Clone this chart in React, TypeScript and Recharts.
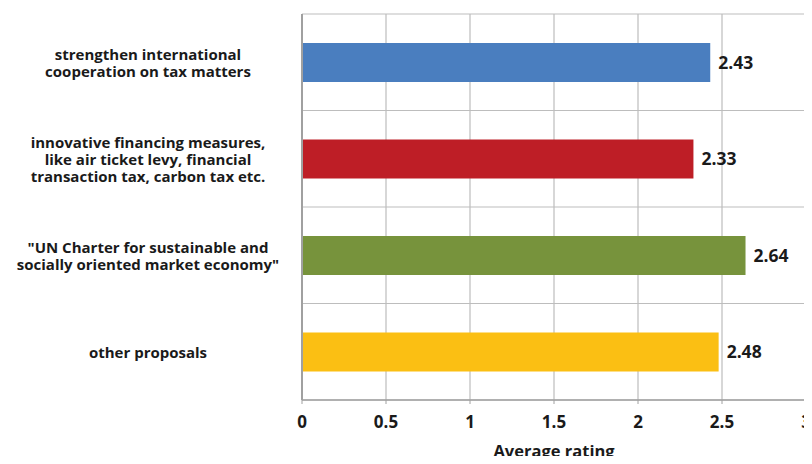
import { BarChart, Bar, XAxis, YAxis, CartesianGrid, Cell, LabelList } from "recharts";

// ─── Data ─────────────────────────────────────────────────────────────────────

const categories = [
  ["strengthen international", "cooperation on tax matters"],
  ["innovative financing measures,", "like air ticket levy, financial", "transaction tax, carbon tax etc."],
  ["\"UN Charter for sustainable and", "socially oriented market economy\""],
  ["other proposals"],
];
const ratings = [2.43, 2.33, 2.64, 2.48];
const barColors = ["#4A7EBF", "#BE1E26", "#77933C", "#FBBF13"];
const xTicks = [0, 0.5, 1, 1.5, 2, 2.5, 3];

const data = categories.map((lines, i) => ({
  name: lines.join(" "),
  lines,
  value: ratings[i],
}));

const FONT = "'Open Sans', sans-serif";

// ─── Custom tick for multi-line category labels ───────────────────────────────

function CategoryTick({ x, y, index }: any) {
  const lines = categories[index] ?? [];
  const lh = 17;
  const start = -((lines.length - 1) * lh) / 2;
  const cx = x - 146;
  return (
    <g>
      {lines.map((l: string, i: number) => (
        <text
          key={i}
          x={cx}
          y={y + start + i * lh}
          textAnchor="middle"
          dominantBaseline="central"
          fontFamily={FONT}
          fontWeight={700}
          fontSize={15}
          fill="#1a1a1a"
        >
          {l}
        </text>
      ))}
    </g>
  );
}

function AxisTitle({ viewBox }: any) {
  return (
    <text
      x={viewBox.x + viewBox.width / 2}
      y={viewBox.y + 50}
      textAnchor="middle"
      dominantBaseline="central"
      fontFamily={FONT}
      fontWeight={700}
      fontSize={16.5}
      fill="#1a1a1a"
    >
      Average rating
    </text>
  );
}

// ─── Component ────────────────────────────────────────────────────────────────

export default function App() {
  return (
    <div style={{ margin: -8, width: 812, height: 464, background: "#fff" }}>
      <BarChart
        width={812}
        height={464}
        data={data}
        layout="vertical"
        margin={{ top: 14, right: 6, left: 0, bottom: 0 }}
        barCategoryGap="30%"
      >
        <CartesianGrid
          stroke="#bdbdbd"
          strokeWidth={1.2}
          horizontalCoordinatesGenerator={({ offset }: any) =>
            [0, 1, 2, 3, 4].map((i) => offset.top + (i * offset.height) / 4)
          }
        />
        <XAxis
          type="number"
          domain={[0, 3]}
          ticks={xTicks}
          height={64}
          axisLine={{ stroke: "#a0a0a0", strokeWidth: 1.5 }}
          tickLine={{ stroke: "#a0a0a0" }}
          tickSize={4}
          tickMargin={12}
          tick={{ fill: "#1a1a1a", fontSize: 17, fontWeight: 700, fontFamily: FONT }}
          label={<AxisTitle />}
        />
        <YAxis
          type="category"
          dataKey="name"
          width={302}
          axisLine={{ stroke: "#a0a0a0", strokeWidth: 2 }}
          tickLine={false}
          tick={<CategoryTick />}
          interval={0}
        />
        <Bar dataKey="value" isAnimationActive={false}>
          {data.map((d, i) => (
            <Cell key={i} fill={barColors[i]} />
          ))}
          <LabelList
            dataKey="value"
            position="right"
            offset={8}
            fill="#1a1a1a"
            fontSize={17.5}
            fontWeight={700}
            fontFamily={FONT}
            formatter={(v: number) => v.toFixed(2)}
          />
        </Bar>
      </BarChart>
    </div>
  );
}
